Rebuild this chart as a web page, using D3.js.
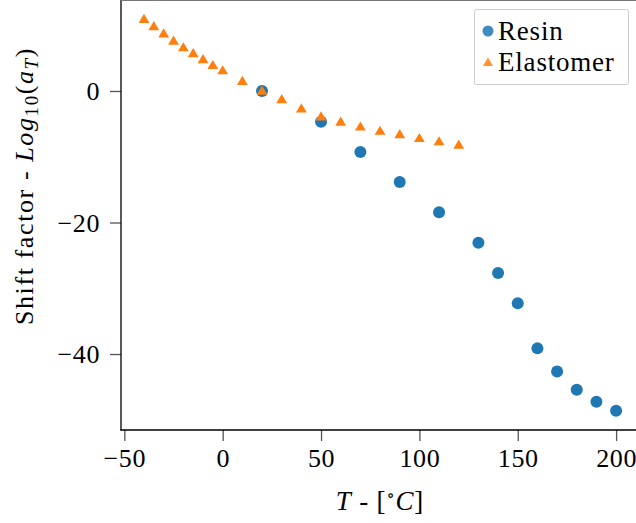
<!DOCTYPE html>
<html>
<head>
<meta charset="utf-8">
<script src="https://cdn.jsdelivr.net/npm/d3@7"></script>
<style>
  body { margin: 0; background: #fff; }
  svg text { font-family: "Liberation Serif", "DejaVu Serif", serif; fill: #000; }
</style>
</head>
<body>
<svg id="chart" width="636" height="523"></svg>
<script>
// temperatures and shift factors
var resinT = [20, 50, 70, 90, 110, 130, 140, 150, 160, 170, 180, 190, 200];
var resinShift = [0, -4.67, -9.28, -13.84, -18.45, -23.07, -27.68, -32.29, -39.14, -42.64, -45.43, -47.26, -48.62];

var elastT = [-40, -35, -30, -25, -20, -15, -10, -5, 0, 10, 20, 30, 40, 50, 60, 70, 80, 90, 100, 110, 120];
var elastShift = [11.0, 9.9, 8.8, 7.7, 6.7, 5.8, 4.9, 4.0, 3.2, 1.6, 0.1, -1.2, -2.6, -3.8, -4.6, -5.35, -6.0, -6.5, -7.1, -7.6, -8.1];

var xTicks = [-50, 0, 50, 100, 150, 200];
var yTicks = [0, -20, -40];

var seriesNames = ["Resin", "Elastomer"];
var BLUE = "#1f77b4", ORANGE = "#ff7f0e";

var svg = d3.select("#chart");

var x = d3.scaleLinear().domain([-52, 212]).range([120.4, 639.7]);
var y = d3.scaleLinear().domain([-51.6, 13.93]).range([430.3, -0.6]);

var fmt = function(d) { return d < 0 ? "\u2212" + Math.abs(d) : String(d); };

// triangle marker like matplotlib '^'
function tri(cx, cy) {
    return "M" + cx + "," + (cy - 4.8) + "L" + (cx + 5.4) + "," + (cy + 4.4) + "L" + (cx - 5.4) + "," + (cy + 4.4) + "Z";
}

// axes
var xAxis = svg.append("g").attr("transform", "translate(0,430)")
    .call(d3.axisBottom(x).tickValues(xTicks).tickSize(11).tickPadding(6).tickFormat(fmt));
var yAxis = svg.append("g").attr("transform", "translate(121,0)")
    .call(d3.axisLeft(y).tickValues(yTicks).tickSize(11).tickPadding(10).tickFormat(fmt));

[xAxis, yAxis].forEach(function(g) {
    g.select(".domain").remove();
    g.selectAll(".tick line").attr("stroke", "#555").attr("stroke-width", 1.3);
    g.selectAll(".tick text").attr("font-size", 26).attr("font-family", "Liberation Serif")
        .attr("letter-spacing", 0.6);
});
xAxis.selectAll(".tick text").attr("dy", "0.78em");
yAxis.selectAll(".tick text").attr("dy", "0.34em");

// spines
svg.append("line").attr("x1", 121).attr("x2", 121).attr("y1", 0).attr("y2", 430.5)
    .attr("stroke", "#000").attr("stroke-width", 1.3);
svg.append("line").attr("x1", 120.4).attr("x2", 636).attr("y1", 430).attr("y2", 430)
    .attr("stroke", "#000").attr("stroke-width", 1.3);
svg.append("line").attr("x1", 121).attr("x2", 636).attr("y1", 0.3).attr("y2", 0.3)
    .attr("stroke", "#777").attr("stroke-width", 1.2);

// data
svg.append("g").selectAll("circle")
    .data(resinT.map(function(t, i) { return [t, resinShift[i]]; }))
    .enter().append("circle")
    .attr("cx", function(d) { return x(d[0]); })
    .attr("cy", function(d) { return y(d[1]); })
    .attr("r", 6)
    .attr("fill", BLUE);

svg.append("g").selectAll("path")
    .data(elastT.map(function(t, i) { return [t, elastShift[i]]; }))
    .enter().append("path")
    .attr("d", function(d) { return tri(x(d[0]), y(d[1])); })
    .attr("fill", ORANGE);

// axis labels
svg.append("text").attr("x", 380).attr("y", 510).attr("text-anchor", "middle")
    .attr("font-size", 27).attr("letter-spacing", 0.8)
    .html('<tspan font-style="italic">T</tspan> - [<tspan dy="-9" font-size="17">\u2218</tspan><tspan dy="9" font-style="italic">C</tspan>]');

var yl = svg.append("text")
    .attr("transform", "translate(33,186) rotate(-90)")
    .attr("text-anchor", "middle")
    .attr("font-size", 26)
    .attr("letter-spacing", 1.6);
yl.append("tspan").text("Shift factor - ");
yl.append("tspan").attr("font-style", "italic").text("Log");
yl.append("tspan").attr("font-size", 19).attr("dy", 5).text("10");
yl.append("tspan").attr("dy", -5).text("(");
yl.append("tspan").attr("font-style", "italic").text("a");
yl.append("tspan").attr("font-style", "italic").attr("font-size", 19).attr("dy", 5).text("T");
yl.append("tspan").attr("dy", -5).text(")");

// legend
var lg = svg.append("g");
lg.append("rect").attr("x", 474.5).attr("y", 9.5).attr("width", 154).attr("height", 75)
    .attr("rx", 2).attr("fill", "#fff").attr("stroke", "#ccc").attr("stroke-width", 1);
lg.append("circle").attr("cx", 488).attr("cy", 31).attr("r", 5.5).attr("fill", BLUE).attr("opacity", 0.85);
lg.append("path").attr("d", "M488,57.5L493,66L483,66Z").attr("fill", ORANGE).attr("opacity", 0.85);
lg.selectAll("text.leg").data(seriesNames).enter().append("text")
    .attr("class", "leg")
    .attr("x", 498)
    .attr("y", function(d, i) { return 40 + i * 31; })
    .attr("font-size", 27)
    .attr("letter-spacing", 0.8)
    .text(function(d) { return d; });
</script>
</body>
</html>
